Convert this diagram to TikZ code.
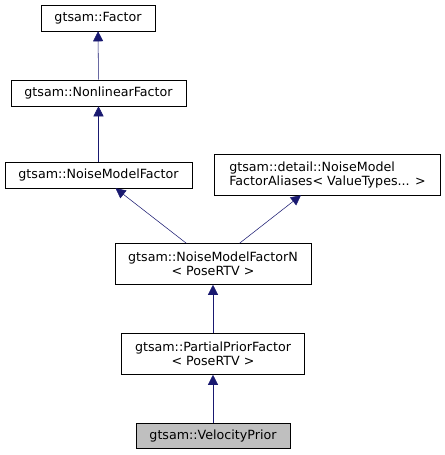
\documentclass[tikz,border=0pt]{standalone}
\usepackage{fontspec}
\setmainfont{DejaVu Sans}
\usetikzlibrary{arrows.meta,positioning}
\definecolor{edgeblue}{HTML}{191970}
\definecolor{selfgray}{HTML}{BFBFBF}
\tikzset{->, % makes the edges point to the base class
>={Triangle[length=7.5pt,width=7.5pt]}, % filled heads as doxygen draws them
every edge/.style={draw=edgeblue, thin}, % colour of the inheritance edges
cls/.style={draw, thin, inner xsep=10pt, minimum height=19.5pt, font=\fontsize{9.5}{10.5}\selectfont}, % a class box
cls2/.style={cls, minimum height=30.75pt}, % a class box with two lines
}

\begin{document}
\begin{tikzpicture}[x=0.75pt, y=-0.75pt]
\useasboundingbox (0,0) rectangle (445,455);
\node[cls] (factor) at (98,18) {gtsam::Factor};
\node[cls] (nonlin) at (98.5,93) {gtsam::NonlinearFactor};
\node[cls] (noise) at (98.5,175) {gtsam::NoiseModelFactor};
\node[cls2, align=left, inner xsep=11pt] (alias) at (327.5,174.5) {gtsam::detail::NoiseModel\\FactorAliases< ValueTypes... >};
\node[cls2, align=center] (noisen) at (213,264) {gtsam::NoiseModelFactorN\\< PoseRTV >};
\node[cls2, align=center] (partial) at (213,354) {gtsam::PartialPriorFactor\\< PoseRTV >};
\node[cls, fill=selfgray, minimum height=18.75pt] (velo) at (213,435.5) {gtsam::VelocityPrior};
\draw (nonlin) edge (factor)
(noise) edge (nonlin)
(noisen) edge (noise)
(noisen) edge (alias)
(partial) edge (noisen)
(velo) edge (partial);
\end{tikzpicture}
\end{document}
